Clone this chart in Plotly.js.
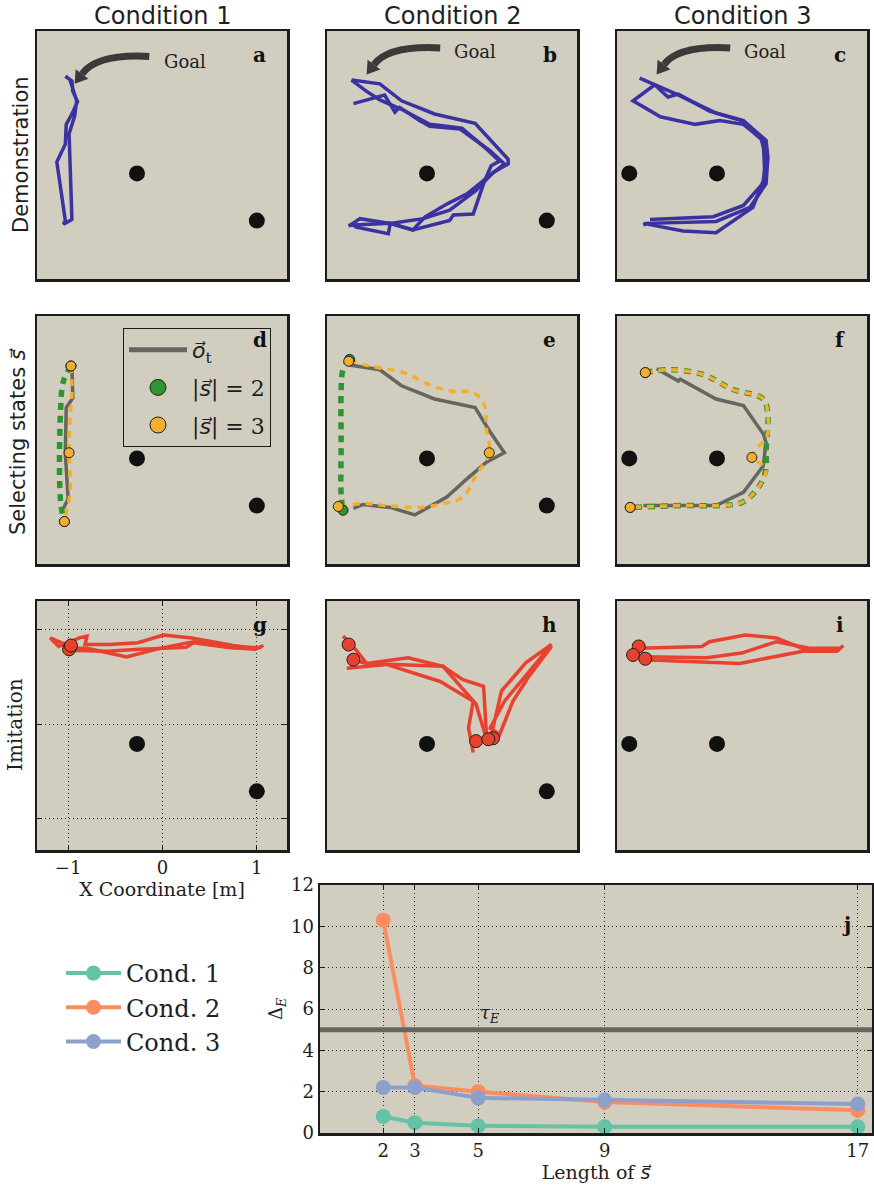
<!DOCTYPE html>
<html><head><meta charset="utf-8">
<script src="https://cdn.plot.ly/plotly-3.0.1.min.js"></script>
<style>body{margin:0;background:#fff}</style>
</head><body><div id="chart" style="width:874px;height:1188px"></div>
<script>
// ---------------- DATA ----------------
const SVEC = '<span style="font-family:DejaVu Sans"><i>s\u20D7</i></span>';
const OVEC = '<span style="font-family:DejaVu Sans"><i>o\u20D7</i></span>';
const columnTitles = ['Condition 1', 'Condition 2', 'Condition 3'];
const rowTitles = ['Demonstration', 'Selecting states <i>s\u20D7</i>', 'Imitation'];
const panelLetters = ['a','b','c','d','e','f','g','h','i','j'];

// obstacles (m)
const obstaclesX_C12 = [-0.27, 1.00];
const obstaclesY_C12 = [-0.21, -0.71];
const obstaclesX_C3 = [-1.20, -0.27];
const obstaclesY_C3 = [-0.21, -0.21];

// demonstrations (blue), one inner list per pass
const demoA_x = [[-1.03,-0.96,-0.95,-0.90,-0.96,-1.02,-1.03,-1.12,-1.07,-1.03,-1.05,-0.96,-0.97,-0.99,-0.93,-0.91,-0.98]];
const demoA_y = [[0.82,0.77,0.66,0.55,0.42,0.31,0.10,-0.09,-0.43,-0.71,-0.75,-0.70,-0.39,0.21,0.40,0.56,0.78]];
const demoB_x = [
  [-1.07,-0.77,-0.54,-0.19,0.24,0.59,0.59,0.43,0.25,-0.03,-0.31,-0.66,-0.98,-1.10],
  [-1.05,-0.72,-0.61,-0.56,-0.35,-0.24,0.08,0.40,0.55,0.32,0.15,-0.05,-0.29,-0.42,-0.66,-0.68,-1.02,-1.07],
  [-1.07,-0.91,-0.77,-0.54,-0.24,0.10,0.36,0.50,0.41,0.34,0.22,0.01,-0.03,-0.42,-0.66,-1.10]];
const demoB_y = [
  [0.78,0.74,0.56,0.42,0.32,-0.06,-0.11,-0.20,-0.39,-0.60,-0.69,-0.74,-0.69,-0.77],
  [0.53,0.62,0.44,0.49,0.35,0.29,0.26,0.03,-0.11,-0.29,-0.43,-0.53,-0.67,-0.81,-0.74,-0.85,-0.78,-0.74],
  [0.78,0.66,0.57,0.47,0.31,0.27,0.05,-0.08,-0.13,-0.29,-0.64,-0.65,-0.71,-0.81,-0.74,-0.76]];
const demoC_x = [
  [-1.09,-0.93,-0.70,-0.28,0.01,0.25,0.27,0.25,0.08,-0.28,-1.02,-1.05],
  [-0.93,-1.16,-0.87,-0.50,-0.24,0.01,0.22,0.24,0.01,-0.31,-0.98],
  [-0.93,-0.79,-0.68,-0.35,-0.01,0.20,0.25,0.22,0.11,-0.28,-0.63,-1.05]];
const demoC_y = [
  [0.80,0.73,0.63,0.43,0.35,0.14,-0.04,-0.32,-0.57,-0.72,-0.74,-0.76],
  [0.73,0.56,0.39,0.31,0.35,0.31,0.14,-0.29,-0.55,-0.67,-0.70],
  [0.73,0.60,0.63,0.45,0.35,0.15,-0.04,-0.29,-0.57,-0.84,-0.82,-0.74]];

// selecting states: o_t (gray), |s|=2 path (green), |s|=3 path (orange), selected states
const otD_x = [-0.96,-0.95,-1.02,-1.03,-1.00,-1.05];
const otD_y = [0.77,0.43,0.33,-0.15,-0.64,-0.74];
const s2D_x = [-0.97,-1.05,-1.08,-1.08,-1.04];
const s2D_y = [0.77,0.61,0.31,-0.67,-0.88];
const s3D_x = [-0.97,-0.96,-0.98,-0.99,-0.98,-1.04];
const s3D_y = [0.77,0.49,0.21,-0.15,-0.57,-0.88];
const selD2_x = [-0.97,-1.04], selD2_y = [0.77,-0.88];
const selD3_x = [-0.97,-0.99,-1.04], selD3_y = [0.77,-0.15,-0.88];

const otE_x = [-1.09,-0.77,-0.54,-0.19,0.24,0.40,0.55,0.36,0.15,-0.06,-0.40,-0.66,-0.95,-1.05];
const otE_y = [0.78,0.73,0.56,0.42,0.33,0.07,-0.15,-0.25,-0.43,-0.62,-0.81,-0.73,-0.70,-0.74];
const s2E_x = [-1.09,-1.16,-1.18,-1.18,-1.18,-1.16];
const s2E_y = [0.84,0.73,0.52,-0.04,-0.60,-0.76];
const s3E_x = [-1.09,-0.88,-0.52,-0.24,0.01,0.22,0.34,0.36,0.39,0.25,0.11,-0.10,-0.35,-0.70,-0.95,-1.21];
const s3E_y = [0.83,0.77,0.70,0.57,0.50,0.49,0.35,0.10,-0.15,-0.39,-0.62,-0.69,-0.73,-0.71,-0.69,-0.73];
const selE2_x = [-1.09,-1.16], selE2_y = [0.84,-0.76];
const selE3_x = [-1.10,0.39,-1.21], selE3_y = [0.82,-0.15,-0.72];

const otF_x = [-0.91,-0.68,-0.66,-0.28,0.01,0.22,0.25,0.22,0.01,-0.28,-1.05];
const otF_y = [0.74,0.61,0.63,0.42,0.35,0.05,-0.04,-0.29,-0.57,-0.71,-0.71];
const s2F_x = [-1.03,-0.77,-0.42,-0.10,0.22,0.27,0.26,0.25,0.25,0.18,0.01,-0.24,-0.63,-1.19];
const s2F_y = [0.70,0.73,0.68,0.52,0.42,0.24,0.03,-0.15,-0.32,-0.50,-0.67,-0.71,-0.71,-0.73];
const s3F_x = [-1.03,-0.77,-0.42,-0.10,0.22,0.27,0.26,0.15,0.10,0.20,0.25,0.18,0.01,-0.24,-0.63,-1.19];
const s3F_y = [0.70,0.73,0.68,0.52,0.42,0.24,0.03,-0.11,-0.20,-0.27,-0.34,-0.50,-0.67,-0.71,-0.71,-0.73];
const selF2_x = [-1.03,-1.19], selF2_y = [0.70,-0.73];
const selF3_x = [-1.03,0.10,-1.19], selF3_y = [0.70,-0.20,-0.73];

// imitation (red)
const imG_x = [[-0.98,-1.19,-1.10,-0.88,-0.80,-0.82,-0.56,-0.26,0.01,0.31,0.75,1.00,1.07],[-0.98,-0.80,-0.38,-0.03,0.33,0.75,1.05],[-1.00,-0.59,-0.24,0.25,0.33,0.70,1.00]];
const imG_y = [[0.82,0.91,0.82,0.91,0.93,0.84,0.84,0.86,0.94,0.91,0.83,0.80,0.83],[0.80,0.80,0.71,0.80,0.87,0.81,0.81],[0.78,0.77,0.79,0.81,0.86,0.81,0.79]];
const startG_x = [-0.98,-0.99,-0.97], startG_y = [0.81,0.79,0.83];
const imH_x = [[-1.16,-1.02,-0.91,-0.47,-0.10,0.11,0.33,0.36,0.25],[-1.12,-0.70,-0.13,0.22,0.17,0.22],[-1.05,-0.91,-0.10,0.25,0.38,0.43,0.52,0.78,1.05,0.78,0.55,0.40,0.50,0.64,0.80,1.05]];
const imH_y = [[0.93,0.78,0.64,0.70,0.61,0.47,0.40,-0.11,-0.22],[0.59,0.63,0.45,0.24,-0.04,-0.30],[0.68,0.64,0.61,0.21,-0.22,-0.04,0.35,0.65,0.84,0.52,0.24,-0.04,-0.11,0.24,0.49,0.82]];
const startH_x = [-1.10,-1.05,0.25,0.43,0.38], startH_y = [0.84,0.68,-0.18,-0.15,-0.16];
const imI_x = [[-1.10,-0.43,-0.35,0.03,0.36,0.71,1.00,1.07],[-1.05,-0.38,-0.01,0.36,0.71,1.03],[-1.05,-0.03,0.64,1.03]];
const imI_y = [[0.80,0.82,0.87,0.94,0.91,0.77,0.77,0.83],[0.71,0.70,0.75,0.87,0.80,0.80],[0.68,0.64,0.77,0.78]];
const startI_x = [-1.10,-1.16,-1.03], startI_y = [0.82,0.73,0.69];

// panel j
const lengths = [2, 3, 5, 9, 17];
const cond1 = [0.8, 0.5, 0.35, 0.3, 0.3];
const cond2 = [10.3, 2.3, 2.0, 1.5, 1.1];
const cond3 = [2.2, 2.2, 1.7, 1.6, 1.4];
const condNames = ['Cond. 1', 'Cond. 2', 'Cond. 3'];
const tauE = 5;
const yTicksJ = [0, 2, 4, 6, 8, 10, 12];
const xTicksG = [-1, 0, 1];

// ---------------- STYLE / LAYOUT ----------------
const PW = 874, PH = 1188;
const BG = '#d1cdbf', EDGE = '#1c1c1c', TXT = '#1e1e1e';
const BLUE = '#3a32a0', RED = '#e8412f', GRAY = '#66655f', GREEN = '#2f9431', ORANGE = '#f4ae2f';
const condColors = ['#66c2a5', '#fc8d62', '#8da0cb'];
const SERIF = 'DejaVu Serif', SANS = 'DejaVu Sans';
const GRID_DASH = '1px,3px';

const cols = [[37,287],[327,577],[617,867]];
const rows = [[31,279],[316,564],[601,850]];
const sfx = k => (k === 1 ? '' : String(k));

const traces = [];
const layout = {
  width: PW, height: PH, margin: {l:0, r:0, t:0, b:0},
  paper_bgcolor: '#ffffff', plot_bgcolor: BG,
  font: {family: SERIF, color: TXT, size: 16},
  showlegend: true,
  annotations: [], shapes: []
};

for (let k = 1; k <= 9; k++) {
  const r = Math.floor((k-1)/3), c = (k-1)%3;
  const base = {showgrid:false, zeroline:false, showline:true, mirror:true, linecolor:EDGE, linewidth:2.5,
                showticklabels:false, ticks:'', fixedrange:true};
  layout['xaxis'+sfx(k)] = Object.assign({}, base, {domain:[cols[c][0]/PW, cols[c][1]/PW], range:[-1.33,1.32], anchor:'y'+sfx(k)});
  layout['yaxis'+sfx(k)] = Object.assign({}, base, {domain:[1-rows[r][1]/PH, 1-rows[r][0]/PH], range:[-1.33,1.30], anchor:'x'+sfx(k)});
}
// panel g has ticks and dotted grid
Object.assign(layout.xaxis7, {tickvals:xTicksG, ticks:'inside', ticklen:5, tickcolor:EDGE, mirror:'allticks',
  showgrid:true, gridcolor:'#2a2a2a', griddash:GRID_DASH, gridwidth:1, showticklabels:true,
  tickfont:{family:SERIF, size:18, color:TXT},
  title:{text:'X Coordinate [m]', font:{family:SERIF, size:19, color:TXT}, standoff:2}});
Object.assign(layout.yaxis7, {tickvals:xTicksG, ticks:'inside', ticklen:5, tickcolor:EDGE, mirror:'allticks',
  showgrid:true, gridcolor:'#2a2a2a', griddash:GRID_DASH, gridwidth:1});
// panel j
layout.xaxis10 = {domain:[320/PW, 872/PW], range:[0,17.45], anchor:'y10', tickvals:lengths, ticks:'inside', ticklen:5,
  tickcolor:EDGE, mirror:'allticks', showline:true, linecolor:EDGE, linewidth:2.5, zeroline:false,
  showgrid:true, gridcolor:'#2a2a2a', griddash:GRID_DASH, gridwidth:1, tickfont:{family:SERIF, size:18, color:TXT},
  title:{text:'Length of ' + SVEC, font:{family:SERIF, size:19, color:TXT}, standoff:4}, fixedrange:true};
layout.yaxis10 = {domain:[1-1133/PH, 1-885/PH], range:[0,12], anchor:'x10', tickvals:yTicksJ, ticks:'inside', ticklen:5,
  tickcolor:EDGE, mirror:'allticks', showline:true, linecolor:EDGE, linewidth:2.5, zeroline:false,
  showgrid:true, gridcolor:'#2a2a2a', griddash:GRID_DASH, gridwidth:1, tickfont:{family:SERIF, size:18, color:TXT},
  title:{text:'\u0394<sub><i>E</i></sub>', font:{family:SERIF, size:18, color:TXT}, standoff:4}, fixedrange:true};

function ax(k){ return {xaxis:'x'+sfx(k), yaxis:'y'+sfx(k)}; }

// obstacles
for (let k = 1; k <= 9; k++) {
  const c = (k-1)%3;
  const ox = c === 2 ? obstaclesX_C3 : obstaclesX_C12;
  const oy = c === 2 ? obstaclesY_C3 : obstaclesY_C12;
  traces.push(Object.assign({x:ox, y:oy, mode:'markers', marker:{color:'#111', size:16}, showlegend:false, hoverinfo:'skip'}, ax(k)));
}

// demonstrations
[[demoA_x,demoA_y],[demoB_x,demoB_y],[demoC_x,demoC_y]].forEach((d, i) => {
  d[0].forEach((px, j) => traces.push(Object.assign({x:px, y:d[1][j], mode:'lines',
    line:{color:BLUE, width:3.5}, showlegend:false, hoverinfo:'skip'}, ax(i+1))));
});

// selecting states
const selSets = [
  [otD_x,otD_y,s2D_x,s2D_y,s3D_x,s3D_y,selD2_x,selD2_y,selD3_x,selD3_y],
  [otE_x,otE_y,s2E_x,s2E_y,s3E_x,s3E_y,selE2_x,selE2_y,selE3_x,selE3_y],
  [otF_x,otF_y,s2F_x,s2F_y,s3F_x,s3F_y,selF2_x,selF2_y,selF3_x,selF3_y]];
selSets.forEach((s, i) => {
  const k = i + 4;
  traces.push(Object.assign({x:s[0], y:s[1], mode:'lines', line:{color:GRAY, width:3.5}, showlegend:false, hoverinfo:'skip'}, ax(k)));
  traces.push(Object.assign({x:s[2], y:s[3], mode:'lines', line:{color:GREEN, width:5.5, dash:'7px,6px', shape:'spline'}, showlegend:false, hoverinfo:'skip'}, ax(k)));
  traces.push(Object.assign({x:s[4], y:s[5], mode:'lines', line:{color:ORANGE, width:3.5, dash:'7px,6px', shape:'spline'}, showlegend:false, hoverinfo:'skip'}, ax(k)));
  traces.push(Object.assign({x:s[6], y:s[7], mode:'markers', marker:{color:GREEN, size:10, line:{color:'#222', width:1}}, showlegend:false, hoverinfo:'skip'}, ax(k)));
  traces.push(Object.assign({x:s[8], y:s[9], mode:'markers', marker:{color:ORANGE, size:10, line:{color:'#222', width:1}}, showlegend:false, hoverinfo:'skip'}, ax(k)));
});
// legend entries for panel d
traces.push(Object.assign({x:[null], y:[null], mode:'lines', name:OVEC + '<sub>t</sub>', line:{color:GRAY, width:5}, legend:'legend', legendgroup:'g1'}, ax(4)));
traces.push(Object.assign({x:[null], y:[null], mode:'markers', name:'|' + SVEC + '| = 2', marker:{color:GREEN, size:20, line:{color:'#222', width:1}}, legend:'legend', legendgroup:'g2'}, ax(4)));
traces.push(Object.assign({x:[null], y:[null], mode:'markers', name:'|' + SVEC + '| = 3', marker:{color:ORANGE, size:20, line:{color:'#222', width:1}}, legend:'legend', legendgroup:'g3'}, ax(4)));

// imitation
[[imG_x,imG_y,startG_x,startG_y],[imH_x,imH_y,startH_x,startH_y],[imI_x,imI_y,startI_x,startI_y]].forEach((d, i) => {
  const k = i + 7;
  d[0].forEach((px, j) => traces.push(Object.assign({x:px, y:d[1][j], mode:'lines',
    line:{color:RED, width:3.5}, showlegend:false, hoverinfo:'skip'}, ax(k))));
  traces.push(Object.assign({x:d[2], y:d[3], mode:'markers', marker:{color:RED, size:13, line:{color:'#222', width:1}}, showlegend:false, hoverinfo:'skip'}, ax(k)));
});

// panel j
[cond1, cond2, cond3].forEach((v, i) => {
  traces.push({x:lengths, y:v, xaxis:'x10', yaxis:'y10', mode:'lines+markers', name:condNames[i],
    line:{color:condColors[i], width:4}, marker:{color:condColors[i], size:15}, legend:'legend2'});
});
layout.shapes.push({type:'line', xref:'x10 domain', x0:0, x1:1, yref:'y10', y0:tauE, y1:tauE, line:{color:GRAY, width:5}, layer:'above'});
layout.annotations.push({xref:'x10', yref:'y10', x:tauE, y:5.75, text:'<i>\u03C4<sub>E</sub></i>', showarrow:false,
  xanchor:'left', yanchor:'middle', font:{family:SERIF, size:18, color:TXT}});

// legends
layout.legend = {x:123/PW, y:1-328/PH, xanchor:'left', yanchor:'top', bgcolor:BG, bordercolor:EDGE, borderwidth:1,
  font:{family:SERIF, size:22, color:TXT}, itemwidth:58, tracegroupgap:6, traceorder:'grouped'};
layout.legend2 = {x:61/PW, y:1-951/PH, xanchor:'left', yanchor:'top', bgcolor:'rgba(0,0,0,0)', borderwidth:0,
  font:{family:SERIF, size:24, color:TXT}, itemwidth:55};

// titles
columnTitles.forEach((t, c) => layout.annotations.push({xref:'paper', yref:'paper', x:(cols[c][0]+cols[c][1])/2/PW, y:1-16/PH,
  text:t, showarrow:false, xanchor:'center', yanchor:'middle', font:{family:SANS, size:24, color:TXT}}));
const rowCenters = [[21,155],[18,442],[15,725]];
const rowFonts = [SANS, SANS, SERIF];
const rowSizes = [21, 21, 20];
rowTitles.forEach((t, r) => layout.annotations.push({xref:'paper', yref:'paper', x:rowCenters[r][0]/PW, y:1-rowCenters[r][1]/PH,
  text:t, textangle:-90, showarrow:false, xanchor:'center', yanchor:'middle', font:{family:rowFonts[r], size:rowSizes[r], color:TXT}}));

// panel letters
for (let k = 1; k <= 10; k++) {
  const isJ = k === 10;
  layout.annotations.push({xref:'x'+sfx(k)+' domain', yref:'y'+sfx(k)+' domain', x:isJ?0.953:0.89, y:isJ?0.84:0.905,
    text:'<b>'+panelLetters[k-1]+'</b>', showarrow:false, xanchor:'center', yanchor:'middle', font:{family:SERIF, size:20, color:'#111'}});
}

// Goal arrows
function goalArrow(k, tail, tip, textPos) {
  const xr = 'x'+sfx(k), yr = 'y'+sfx(k);
  const dx = tail[0]-tip[0];
  const ctrl = [tip[0]+0.3*dx, tail[1]+0.03];
  let d = [tip[0]-ctrl[0], tip[1]-ctrl[1]]; const L = Math.hypot(d[0], d[1]); d = [d[0]/L, d[1]/L];
  const p = [-d[1], d[0]], hl = 0.13, hw = 0.085;
  const B = [tip[0]-hl*d[0], tip[1]-hl*d[1]];
  const c1 = [B[0]+hw*p[0], B[1]+hw*p[1]], c2 = [B[0]-hw*p[0], B[1]-hw*p[1]];
  layout.shapes.push({type:'path', xref:xr, yref:yr, path:`M${tail[0]},${tail[1]} Q${ctrl[0]},${ctrl[1]} ${B[0]},${B[1]}`,
    line:{color:'#3a3a3a', width:7}, fillcolor:'rgba(0,0,0,0)'});
  layout.shapes.push({type:'path', xref:xr, yref:yr, path:`M${tip[0]},${tip[1]} L${c1[0]},${c1[1]} L${c2[0]},${c2[1]} Z`,
    line:{width:0}, fillcolor:'#3a3a3a'});
  layout.annotations.push({xref:xr, yref:yr, x:textPos[0], y:textPos[1], text:'Goal', showarrow:false,
    xanchor:'left', yanchor:'middle', font:{family:SERIF, size:18, color:TXT}});
}
goalArrow(1, [-0.14,1.03], [-0.93,0.74], [-0.01,0.975]);
goalArrow(2, [-0.13,1.12], [-0.91,0.84], [0.0,1.08]);
goalArrow(3, [-0.13,1.12], [-0.91,0.84], [0.0,1.08]);

Plotly.newPlot('chart', traces, layout, {staticPlot:true, displayModeBar:false});
</script></body></html>
